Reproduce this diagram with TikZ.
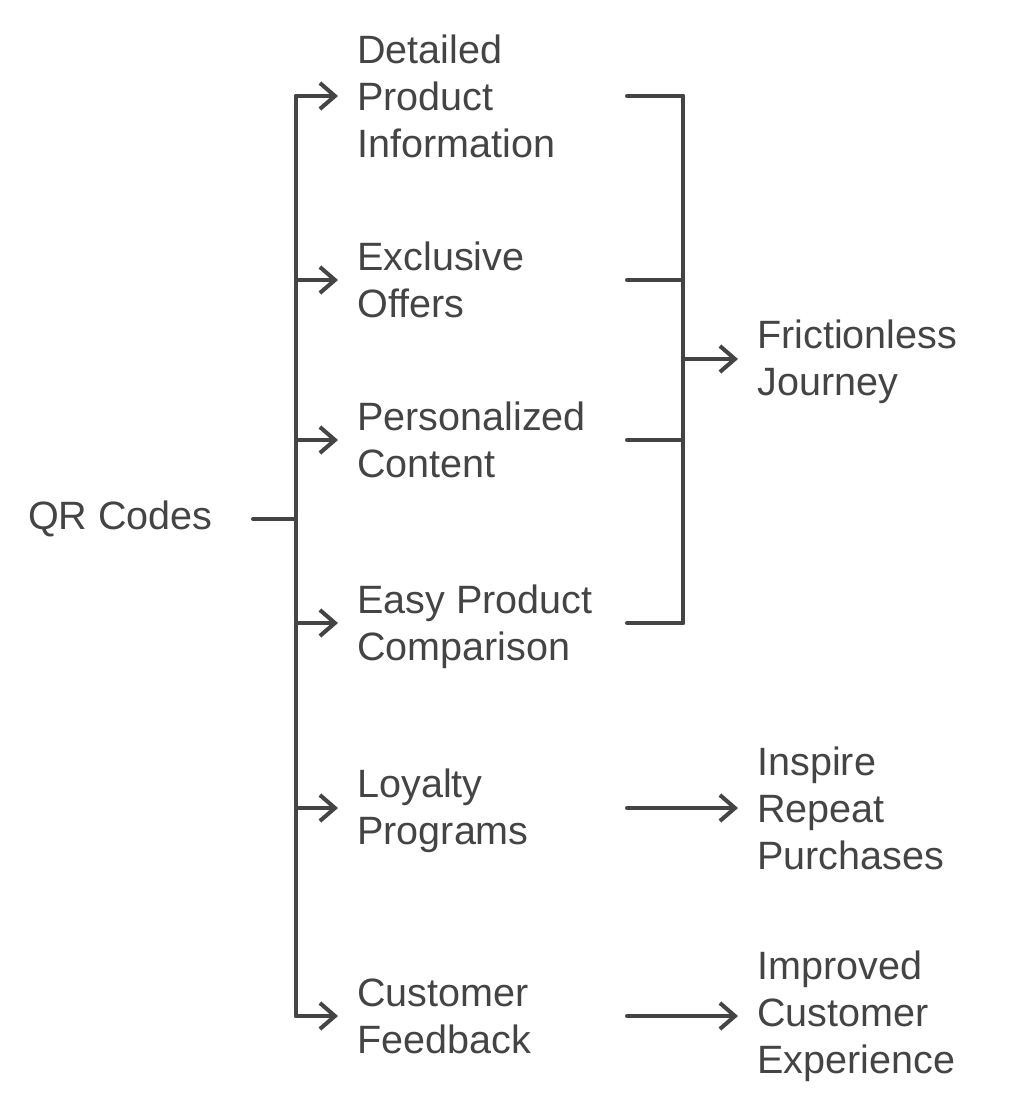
\documentclass[tikz,border=0pt]{standalone}
\usepackage{fontspec}
\setmainfont{Liberation Sans}
\usetikzlibrary{arrows.meta, positioning}
\definecolor{ink}{HTML}{444444}

\begin{document}
\begin{tikzpicture}[x=0.02cm, y=-0.02cm,
    txt/.style={anchor=west, align=left, inner xsep=0.38cm, inner ysep=0pt,
                text=ink, font=\fontsize{22.5}{26.8}\selectfont},
    link/.style={draw=ink, line width=2.3pt, line cap=round, line join=round},
    arr/.style={link, -{Straight Barb[length=0.3cm, width=0.52cm]}}]

    \useasboundingbox (0,0) rectangle (1016,1113);

    % --- root and trunk ---
    \node[txt, anchor=east, inner xsep=0.8cm] (qr) at (253,519) {QR Codes};
    \coordinate (trunk) at (296,519);
    \coordinate (b1) at (296,96);
    \coordinate (b2) at (296,280);
    \coordinate (b3) at (296,440);
    \coordinate (b4) at (296,623);
    \coordinate (b5) at (296,808);
    \coordinate (b6) at (296,1016);
    \draw[link] (qr.east) -- (trunk);
    \draw[link] (b1) -- (b6);

    % --- features ---
    \node[txt] (info)    at (338,96)   {Detailed\\Product\\Information};
    \node[txt] (offers)  at (338,280)  {Exclusive\\Offers};
    \node[txt] (content) at (338,440)  {Personalized\\Content};
    \node[txt] (compare) at (338,627)  {Easy Product\\Comparison};
    \node[txt] (loyalty) at (338,811)  {Loyalty\\Programs};
    \node[txt] (feedbk)  at (338,1016) {Customer\\Feedback};

    \draw[arr] (b1) -- (b1 -| info.west);
    \draw[arr] (b2) -- (b2 -| offers.west);
    \draw[arr] (b3) -- (b3 -| content.west);
    \draw[arr] (b4) -- (b4 -| compare.west);
    \draw[arr] (b5) -- (b5 -| loyalty.west);
    \draw[arr] (b6) -- (b6 -| feedbk.west);

    % --- outcomes ---
    \node[txt] (journey) at (738,362)  {Frictionless\\Journey};
    \node[txt] (repeat)  at (738,808)  {Inspire\\Repeat\\Purchases};
    \node[txt] (cx)      at (738,1016) {Improved\\Customer\\Experience};

    % bracket
    \coordinate (rcol) at (627,0);
    \coordinate (bcol) at (683,0);
    \coordinate (bmid) at (683,359);
    \draw[link] (rcol |- b1) -- (bcol |- b1);
    \draw[link] (rcol |- b2) -- (bcol |- b2);
    \draw[link] (rcol |- b3) -- (bcol |- b3);
    \draw[link] (rcol |- b4) -- (bcol |- b4);
    \draw[link] (bcol |- b1) -- (bcol |- b4);
    \draw[arr] (bmid) -- (bmid -| journey.west);

    \draw[arr] (rcol |- b5) -- (b5 -| repeat.west);
    \draw[arr] (rcol |- b6) -- (b6 -| cx.west);
\end{tikzpicture}
\end{document}
